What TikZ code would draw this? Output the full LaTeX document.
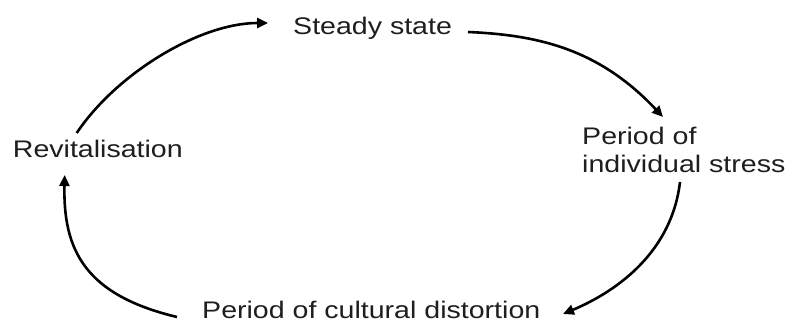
\documentclass[tikz,border=0pt]{standalone}
\usepackage{fontspec}
\setmainfont[FakeStretch=1.19]{Liberation Sans}
\usetikzlibrary{arrows.meta}
\definecolor{txt}{HTML}{1E1E1E}
\begin{document}
\begin{tikzpicture}[x=1pt,y=-1pt,
  lbl/.style={inner sep=0pt,anchor=base west,text=txt,font=\fontsize{24}{28}\selectfont},
  cyc/.style={line width=2.6pt,draw=black,-{Triangle[length=11pt,width=10pt]}}]
\useasboundingbox (0,0) rectangle (788,323);
\node[lbl] (steady) at (293,35) {Steady state};
\node[lbl] (rev) at (12.7,158) {Revitalisation};
\node[lbl,align=left] (stress) at (582,173) {Period of\\individual stress};
\node[lbl] (cult) at (202,319) {Period of cultural distortion};
\draw[cyc] ([shift={(64,-25)}]rev.base west) .. controls (117,73) and (200,23) .. ([shift={(-25,-12)}]steady.base west);
\draw[cyc] ([shift={(175,-3)}]steady.base west) .. controls (540,35) and (600,50) .. ([shift={(81,-56)}]stress.base west);
\draw[cyc] ([shift={(98,9)}]stress.base west) .. controls (672,250) and (620,290) .. ([shift={(361,-5)}]cult.base west);
\draw[cyc] ([shift={(-25,-2)}]cult.base west) .. controls (85,295) and (63,250) .. ([shift={(52,17)}]rev.base west);
\end{tikzpicture}
\end{document}
